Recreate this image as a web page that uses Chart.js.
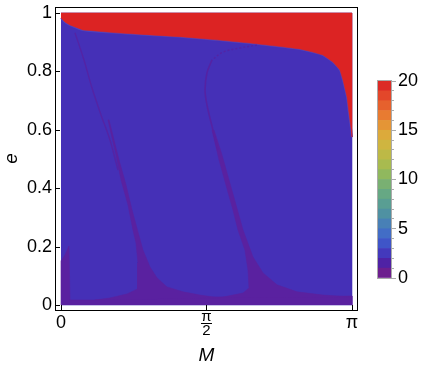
<!DOCTYPE html>
<html>
<head>
<meta charset="utf-8">
<script src="https://cdn.jsdelivr.net/npm/chart.js@4/dist/chart.umd.min.js"></script>
<style>
  html, body { margin: 0; padding: 0; background: #fff; }
  #wrap { position: relative; width: 423px; height: 370px; }
  #plot { position: absolute; left: 0; top: 0; }
  #bar { position: absolute; left: 370px; top: 70px; }
</style>
</head>
<body>
<div id="wrap">
  <canvas id="plot" width="423" height="370"></canvas>
  <canvas id="bar" width="53" height="220"></canvas>
</div>
<script>
const PI = Math.PI;

// axis ticks
const xTickValues = [0, PI / 2, PI];
const xTickLabels = ['0', ['π', '2'], 'π'];
const yTickValues = [0, 0.2, 0.4, 0.6, 0.8, 1];

// whole (M, e) domain, drawn in the blue level
const domainM = [0, PI, PI, 0];
const domainE = [0, 0, 1, 1];

// edge of the red zone (level 20)
const redEdgeM = [0, 0.043, 0.097, 0.238, 0.605, 0.961, 1.317, 1.684, 2.040, 2.397, 2.580, 2.721, 2.829, 2.936, 3.012, 3.044, 3.088, 3.109, 3.131, PI];
const redEdgeE = [0.983, 0.969, 0.959, 0.942, 0.932, 0.925, 0.918, 0.908, 0.897, 0.884, 0.877, 0.866, 0.856, 0.832, 0.805, 0.771, 0.712, 0.658, 0.606, 0.575];

// low purple level along the bottom and left edge
const floorM = [0, 0, 0.043, 0.086, 0.097, 0.421, 0.637, 1.500, 2.580, PI, PI];
const floorE = [0, 0.151, 0.171, 0.202, 0.017, 0.017, 0.021, 0.027, 0.027, 0.031, 0];

// first purple fan
const fan1M = [0.507, 0.605, 0.648, 0.723, 0.777, 0.810, 0.831, 0.831, 0.821, 0.713, 0.529, 0.367,
               1.717, 1.501, 1.317, 1.144, 1.036, 0.961, 0.885, 0.831, 0.767, 0.702, 0.626, 0.518];
const fan1E = [0.634, 0.497, 0.428, 0.343, 0.257, 0.212, 0.144, 0.086, 0.055, 0.038, 0.024, 0.017,
               0.024, 0.034, 0.045, 0.062, 0.093, 0.130, 0.188, 0.250, 0.325, 0.411, 0.497, 0.634];
const thread1M = [0.151, 0.248, 0.335, 0.432, 0.529, 0.615];
const thread1E = [0.932, 0.839, 0.743, 0.651, 0.565, 0.462];

// second purple fan
const fan2M = [1.630, 1.706, 1.781, 1.857, 1.911, 1.986, 2.019, 2.030, 1.965, 1.749, 1.501,
               PI, 2.829, 2.548, 2.332, 2.181, 2.073, 1.965, 1.889, 1.814, 1.738, 1.652];
const fan2E = [0.599, 0.497, 0.411, 0.325, 0.257, 0.188, 0.120, 0.058, 0.041, 0.027, 0.024,
               0.027, 0.034, 0.045, 0.069, 0.110, 0.164, 0.257, 0.343, 0.428, 0.514, 0.599];
const arc2M = [2.116, 1.932, 1.749, 1.630];
const arc2E = [0.890, 0.880, 0.866, 0.839];
const thread2M = [1.630, 1.576, 1.555, 1.576, 1.641, 1.695];
const thread2E = [0.839, 0.795, 0.736, 0.685, 0.599, 0.531];

// colour bar levels and bands
const levels = [0, 1, 2, 3, 4, 5, 6, 7, 8, 9, 10, 11, 12, 13, 14, 15, 16, 17, 18, 19, 20];
const bandColors = ['#6d1e8e', '#4f22a5', '#4339bc', '#3f55c8', '#426dc6', '#4880b6', '#4f91a2', '#599e93',
                    '#66a884', '#79b072', '#90b85e', '#a8bb4f', '#bdb946', '#cfb540', '#dcaa3b', '#e49536',
                    '#e87b31', '#e6612d', '#e3472a', '#dc2b26'];

const blue = '#4530b7';
const purple = '#5a21a0';
const red = '#dc2323';
const font = 'Liberation Sans, Arial, sans-serif';

const pts = (ms, es) => ms.map((m, i) => ({ x: m, y: es[i] }));

function area(ms, es, color, order) {
  return { data: pts(ms, es), fill: 'shape', backgroundColor: color, borderColor: color,
           borderWidth: 0.6, pointRadius: 0, order: order };
}
function curve(ms, es, color, width, order, dash) {
  return { data: pts(ms, es), fill: false, borderColor: color, borderWidth: width,
           pointRadius: 0, tension: 0.35, borderDash: dash || [], order: order };
}

const framePlugin = {
  id: 'frame',
  afterDraw(chart) {
    const { ctx, chartArea: a, scales: { x, y } } = chart;
    ctx.save();
    ctx.strokeStyle = '#000';
    ctx.lineWidth = 1;
    ctx.strokeRect(a.left + 0.5, a.top + 0.5, a.right - a.left - 1, a.bottom - a.top);
    ctx.beginPath();
    xTickValues.forEach(v => {
      const px = Math.round(x.getPixelForValue(v)) + 0.5;
      ctx.moveTo(px, a.bottom); ctx.lineTo(px, a.bottom - 5);
    });
    yTickValues.forEach(v => {
      const py = Math.round(y.getPixelForValue(v)) + 0.5;
      ctx.moveTo(a.left, py); ctx.lineTo(a.left + 5, py);
    });
    // fraction bar of pi/2
    const xm = x.getPixelForValue(xTickValues[1]);
    ctx.moveTo(xm - 5.5, a.bottom + 13.5); ctx.lineTo(xm + 5.5, a.bottom + 13.5);
    ctx.stroke();
    ctx.restore();
  }
};

new Chart(document.getElementById('plot'), {
  type: 'line',
  data: {
    datasets: [
      area(domainM, domainE, blue, 20),
      curve(redEdgeM, redEdgeE, '#4b44c4', 2, 19),
      area(redEdgeM.concat([PI, 0]), redEdgeE.concat([1, 1]), red, 18),
      area(floorM, floorE, purple, 10),
      area(fan1M, fan1E, purple, 9),
      area(fan2M, fan2E, purple, 8),
      curve(thread1M, thread1E, 'rgba(88,32,160,0.8)', 1.4, 5),
      curve(arc2M, arc2E, 'rgba(88,32,160,0.8)', 1.4, 4, [2, 2]),
      curve(thread2M, thread2E, 'rgba(88,32,160,0.85)', 1.6, 3)
    ]
  },
  options: {
    responsive: false,
    animation: false,
    layout: { padding: { left: 0, top: 7, right: 65, bottom: 0 } },
    plugins: { legend: { display: false }, tooltip: { enabled: false } },
    scales: {
      x: {
        type: 'linear', min: -0.0648, max: 3.2064,
        afterBuildTicks: s => { s.ticks = xTickValues.map(v => ({ value: v })); },
        afterFit: s => { s.height = 60; s.paddingLeft = 0; s.paddingRight = 0; },
        grid: { display: false, drawTicks: false },
        border: { display: false },
        ticks: {
          autoSkip: false, maxRotation: 0, padding: 0, color: '#000',
          callback: (v, i) => xTickLabels[i],
          font: c => c.index === 1 ? { family: font, size: 15, lineHeight: '14px' }
                                   : { family: font, size: 18, lineHeight: '26px' }
        },
        title: { display: true, text: 'M', color: '#000', padding: { top: 0, bottom: 3 },
                 font: { family: font, size: 19, style: 'italic' } }
      },
      y: {
        min: -0.0171, max: 1.0205,
        afterBuildTicks: s => { s.ticks = yTickValues.map(v => ({ value: v })); },
        afterFit: s => { s.width = 55; s.paddingTop = 0; s.paddingBottom = 0; },
        grid: { display: false, drawTicks: false },
        border: { display: false },
        ticks: { padding: 3, color: '#000', font: { family: font, size: 18 },
                 callback: v => String(+v.toFixed(2)) },
        title: { display: true, text: 'e', color: '#000', padding: { top: 0, bottom: 1 },
                 font: { family: font, size: 19, style: 'italic' } }
      }
    }
  },
  plugins: [framePlugin]
});

const barFrame = {
  id: 'barFrame',
  afterDraw(chart) {
    const { ctx, chartArea: a } = chart;
    ctx.save();
    ctx.strokeStyle = '#aaa';
    ctx.lineWidth = 1;
    ctx.strokeRect(a.left - 0.5, a.top - 0.5, a.right - a.left + 1, a.bottom - a.top + 1);
    ctx.restore();
  }
};

new Chart(document.getElementById('bar'), {
  type: 'bar',
  data: {
    labels: [''],
    datasets: bandColors.map((c, i) => ({
      data: [[levels[i], levels[i + 1]]], backgroundColor: c, borderWidth: 0,
      grouped: false, barPercentage: 1, categoryPercentage: 1
    }))
  },
  options: {
    responsive: false,
    animation: false,
    layout: { padding: { left: 8, top: 11, right: 0, bottom: 12 } },
    plugins: { legend: { display: false }, tooltip: { enabled: false } },
    scales: {
      x: { display: false },
      y: {
        position: 'right', weight: 0, min: 0, max: 20,
        ticks: { stepSize: 1, display: false },
        grid: { drawOnChartArea: false, tickLength: 3, color: '#aaa' },
        border: { display: false },
        afterFit: s => { s.width = 0; s.paddingTop = 0; s.paddingBottom = 0; }
      },
      y2: {
        position: 'right', weight: 1, min: 0, max: 20,
        afterBuildTicks: s => { s.ticks = levels.filter(v => v % 5 === 0).map(v => ({ value: v })); },
        ticks: { padding: 2, color: '#000', font: { family: font, size: 18 } },
        grid: { drawOnChartArea: false, tickLength: 5, color: '#aaa' },
        border: { display: false },
        afterFit: s => { s.width = 32; s.paddingTop = 0; s.paddingBottom = 0; }
      }
    }
  },
  plugins: [barFrame]
});
</script>
</body>
</html>
